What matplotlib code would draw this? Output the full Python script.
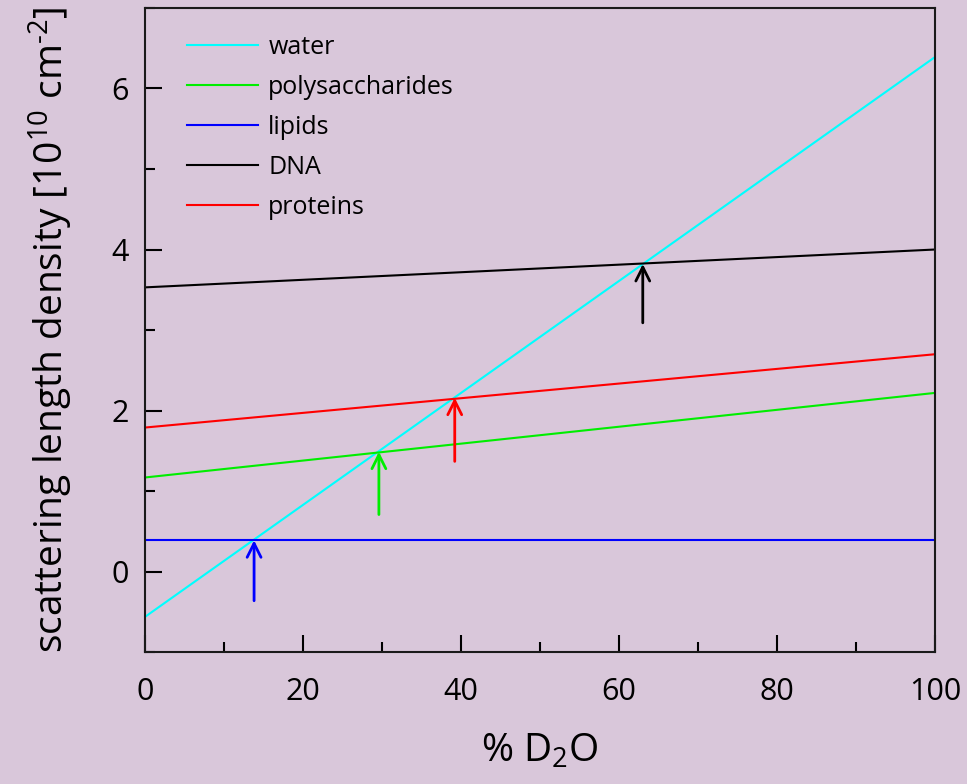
import matplotlib
matplotlib.use('Agg')
import matplotlib.pyplot as plt
from matplotlib.ticker import MultipleLocator

# % D2O, endpoints of the straight lines
d2o = [0, 100]
water = [-0.56, 6.39]
polysaccharides = [1.17, 2.22]
lipids = [0.39, 0.39]
dna = [3.53, 4.00]
proteins = [1.79, 2.70]

# match points (x, arrow tail y, arrow head y)
arrow_x = [13.8, 29.6, 39.2, 63.0]
arrow_y0 = [-0.36, 0.71, 1.37, 3.09]
arrow_y1 = [0.39, 1.49, 2.16, 3.82]
arrow_col = ['#0000ff', '#00ee00', '#ff0000', 'black']

bg = '#d9c7da'
plt.rcParams['font.family'] = ['Open Sans', 'DejaVu Sans']
plt.rcParams['mathtext.fontset'] = 'custom'
plt.rcParams['mathtext.rm'] = 'Open Sans'
plt.rcParams['mathtext.it'] = 'Open Sans'

fig = plt.figure(figsize=(9.67, 7.84), dpi=100, facecolor=bg)
ax = fig.add_axes([0.15, 0.168, 0.817, 0.822], facecolor=bg)

ax.plot(d2o, water, color='#00ffff', lw=1.5, label='water')
ax.plot(d2o, polysaccharides, color='#00ee00', lw=1.5, label='polysaccharides')
ax.plot(d2o, lipids, color='#0000ff', lw=1.5, label='lipids')
ax.plot(d2o, dna, color='black', lw=1.5, label='DNA')
ax.plot(d2o, proteins, color='#ff0000', lw=1.5, label='proteins')

for x, y0, y1, c in zip(arrow_x, arrow_y0, arrow_y1, arrow_col):
    ax.annotate('', xy=(x, y1), xytext=(x, y0),
                arrowprops=dict(arrowstyle='->', color=c, lw=2,
                                mutation_scale=25, shrinkA=0, shrinkB=0))

ax.set_xlim(0, 100)
ax.set_ylim(-1, 7)
ax.xaxis.set_major_locator(MultipleLocator(20))
ax.xaxis.set_minor_locator(MultipleLocator(10))
ax.yaxis.set_major_locator(MultipleLocator(2))
ax.yaxis.set_minor_locator(MultipleLocator(1))
ax.tick_params(which='both', direction='in', width=1.5, labelsize=22)
ax.tick_params(axis='x', pad=18)
ax.tick_params(axis='y', pad=12)
ax.tick_params(which='major', length=12)
ax.tick_params(which='minor', length=7)
for s in ax.spines.values():
    s.set_linewidth(1.5)
    s.set_color('#1a1a1a')

ax.set_xlabel(r'% D$_{\text{2}}$O', fontsize=28, labelpad=18)
ax.set_ylabel(r'scattering length density [10$^{\text{10}}$ cm$^{\text{-2}}$]',
              fontsize=28, labelpad=26)

ax.legend(loc='upper left', frameon=False, fontsize=18, handlelength=2.85,
          handletextpad=0.4, labelspacing=0.6, borderaxespad=0.3,
          bbox_to_anchor=(0.031, 0.985))

fig.savefig('out.png', dpi=100, facecolor=bg)
